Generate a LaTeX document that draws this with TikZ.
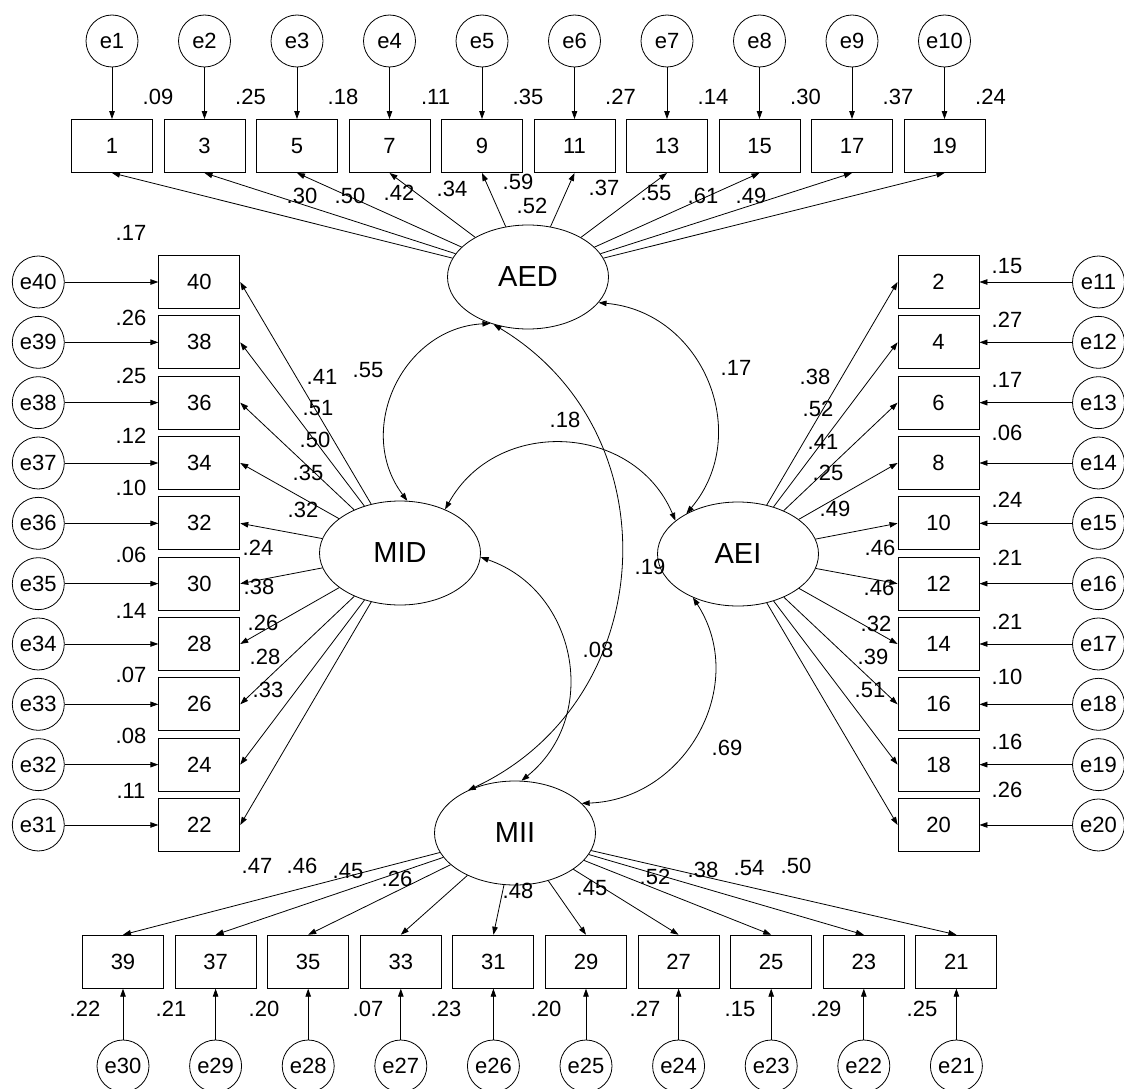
\documentclass[tikz,border=0pt]{standalone}
\usepackage{fontspec}
\setmainfont{Liberation Sans}
\usetikzlibrary{arrows.meta,shapes.geometric}
\begin{document}
\begin{tikzpicture}[x=1pt,y=-1pt,
  every node/.style={font=\fontsize{22}{26}\selectfont},
  obs/.style={draw, line width=0.9pt, minimum width=81pt, minimum height=53pt, inner sep=0pt},
  err/.style={draw, circle, line width=0.8pt, minimum size=52pt, inner sep=0pt},
  lat/.style={draw, ellipse, line width=0.8pt, minimum width=161pt, minimum height=104pt, inner sep=0pt, font=\fontsize{29}{34}\selectfont},
  lbl/.style={inner sep=0pt},
  arr/.style={-{Triangle[length=8pt,width=5.5pt]}, line width=0.8pt},
  cov/.style={{Triangle[length=8pt,width=5.5pt]}-{Triangle[length=8pt,width=5.5pt]}, line width=0.8pt},
]
\useasboundingbox (0,0) rectangle (1124,1089);

% latent variables
\node[lat] (AED) at (528,277) {AED};
\node[lat] (MID) at (400,553) {MID};
\node[lat] (AEI) at (738,554) {AEI};
\node[lat] (MII) at (515,833) {MII};

% top row
\foreach \n/\e [count=\i from 0] in {1/1,3/2,5/3,7/4,9/5,11/6,13/7,15/8,17/9,19/10}{
  \node[obs] (b\n) at ({112+92.5*\i},146) {\n};
  \node[err] (e\e) at ({112+92.5*\i},41) {e\e};
  \draw[arr] (e\e) -- (b\n);
  \draw[arr] (AED) -- (b\n.south);
}
% left column
\foreach \n/\e [count=\i from 0] in {40/40,38/39,36/38,34/37,32/36,30/35,28/34,26/33,24/32,22/31}{
  \node[obs] (b\n) at (199.3,{282+60.33*\i}) {\n};
  \node[err] (e\e) at (38.3,{282+60.33*\i}) {e\e};
  \draw[arr] (e\e) -- (b\n);
  \draw[arr] (MID) -- (b\n.east);
}
% right column
\foreach \n/\e [count=\i from 0] in {2/11,4/12,6/13,8/14,10/15,12/16,14/17,16/18,18/19,20/20}{
  \node[obs] (b\n) at (938.5,{282+60.33*\i}) {\n};
  \node[err] (e\e) at (1098.5,{282+60.33*\i}) {e\e};
  \draw[arr] (e\e) -- (b\n);
  \draw[arr] (AEI) -- (b\n.west);
}
% bottom row
\foreach \n/\e [count=\i from 0] in {39/30,37/29,35/28,33/27,31/26,29/25,27/24,25/23,23/22,21/21}{
  \node[obs] (b\n) at ({123+92.6*\i},961.7) {\n};
  \node[err] (e\e) at ({123+92.6*\i},1066) {e\e};
  \draw[arr] (e\e) -- (b\n);
  \draw[arr] (MII) -- (b\n.north);
}

% covariances
\draw[cov] (AED.231) to[out=183,in=127,looseness=1.15] (MID.82);
\draw[cov] (AED.340) to[out=-5,in=50,looseness=1.17] (AEI.142);
\draw[cov] (MID.44) to[out=61,in=113,looseness=1.18] (AEI.152);
\draw[cov] (AED.234) to[out=-31,in=25,looseness=1.16] (MII.138);
\draw[cov] (MID.357) to[out=-19,in=39,looseness=1.15] (MII.83);
\draw[cov] (AEI.224) to[out=-57,in=2,looseness=1.14] (MII.24);

% top R2
\foreach \v [count=\i from 0] in {.09,.25,.18,.11,.35,.27,.14,.30,.37,.24}{
  \node[lbl] (rt\i) at ({158+92.5*\i},97) {\v};
}
% left R2
\foreach \v/\y [count=\i] in {.17/233,.26/318,.25/376,.12/436,.10/488,.06/555,.14/611,.07/675,.08/736,.11/791}{
  \node[lbl] (rl\i) at (131,\y) {\v};
}
% right R2
\foreach \v/\y [count=\i] in {.15/266,.27/320,.17/380,.06/433,.24/500,.21/558,.21/622,.10/677,.16/742,.26/790}{
  \node[lbl] (rr\i) at (1007,\y) {\v};
}
% bottom R2
\foreach \v/\x [count=\i] in {.22/85,.21/171,.20/264,.07/368,.23/446,.20/546,.27/645,.15/740,.29/826,.25/922}{
  \node[lbl] (rb\i) at (\x,1009) {\v};
}

% AED loadings
\foreach \v/\x/\y [count=\i] in {.30/302/196,.50/350/196,.42/399/193,.34/452/189,.59/518/182,.52/532/206,.37/604/188,.55/656/193,.61/703/196,.49/751/196}{
  \node[lbl] (la\i) at (\x,\y) {\v};
}
% MID loadings
\foreach \v/\x/\y [count=\i] in {.41/322/377,.51/318/408,.50/315/440,.35/308/473,.32/303/510,.24/258/548,.38/259/587,.26/263/623,.28/265/657,.33/268/690}{
  \node[lbl] (lm\i) at (\x,\y) {\v};
}
% AEI loadings
\foreach \v/\x/\y [count=\i] in {.38/815/377,.52/818/409,.41/823/442,.25/828/473,.49/835/509,.46/880/548,.46/879/588,.32/876/624,.39/873/657,.51/870/690}{
  \node[lbl] (li\i) at (\x,\y) {\v};
}
% MII loadings
\foreach \v/\x/\y [count=\i] in {.47/257/866,.46/302/866,.45/348/871,.26/397/879,.48/518/891,.45/592/888,.52/655/877,.38/703/870,.54/749/868,.50/796/866}{
  \node[lbl] (lb\i) at (\x,\y) {\v};
}

% correlation labels
\node[lbl] (c1) at (368,370) {.55};
\node[lbl] (c2) at (736,368) {.17};
\node[lbl] (c3) at (565,420) {.18};
\node[lbl] (c4) at (650,567) {.19};
\node[lbl] (c5) at (598,650) {.08};
\node[lbl] (c6) at (727,748) {.69};
\end{tikzpicture}
\end{document}
